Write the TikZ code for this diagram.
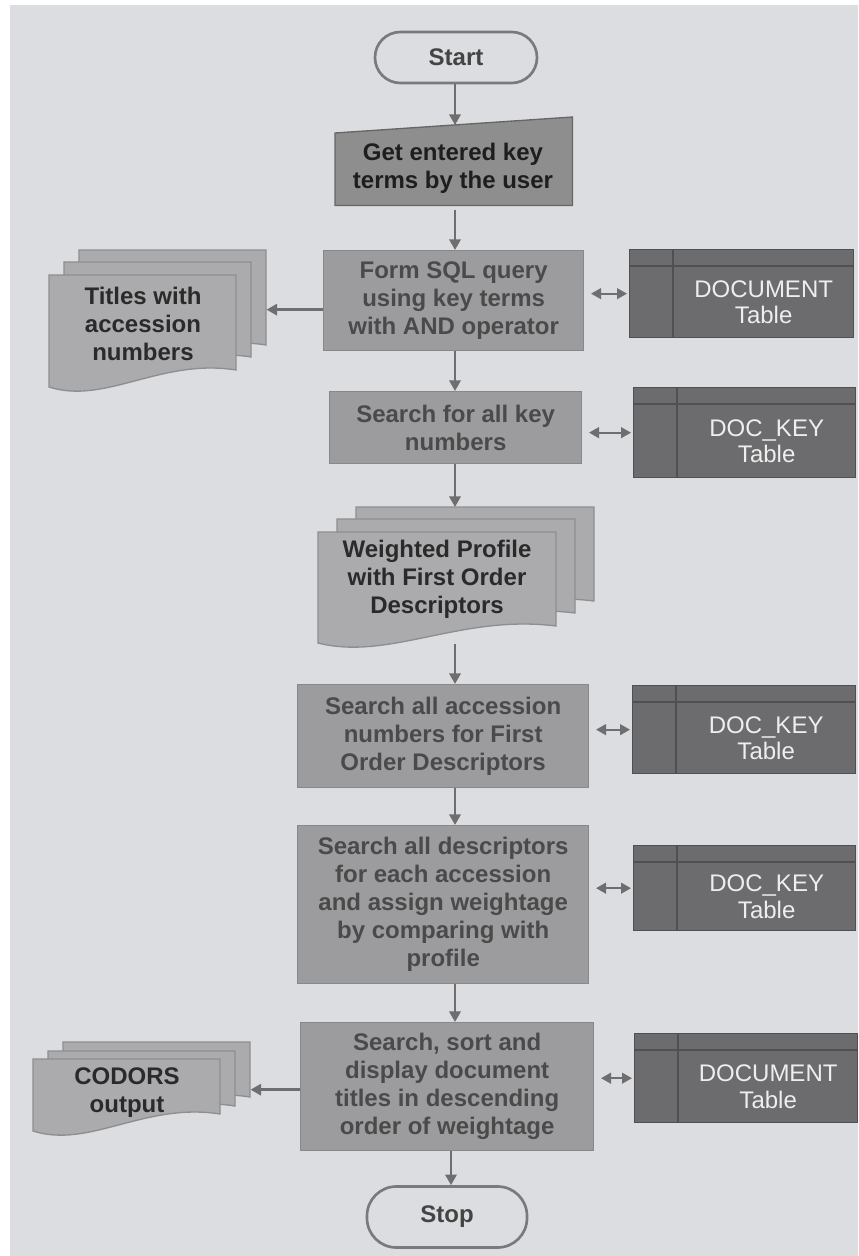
\documentclass[tikz,border=0pt]{standalone}
\usepackage{fontspec}
\setmainfont{Liberation Sans}
\usetikzlibrary{arrows.meta,calc}
\definecolor{bgc}{HTML}{DCDDE0}
\definecolor{procfill}{HTML}{9C9C9E}
\definecolor{procline}{HTML}{88888A}
\definecolor{proctext}{HTML}{4A4A4A}
\definecolor{manfill}{HTML}{8E8E8F}
\definecolor{manline}{HTML}{666666}
\definecolor{mantext}{HTML}{1E1E1E}
\definecolor{sheetfill}{HTML}{ABABAD}
\definecolor{sheetline}{HTML}{8E8E90}
\definecolor{sheettext}{HTML}{2A2A2A}
\definecolor{tabfill}{HTML}{6C6C6E}
\definecolor{tabline}{HTML}{505052}
\definecolor{tabtext}{HTML}{EEEEEE}
\definecolor{termline}{HTML}{7A7A7A}
\definecolor{termtext}{HTML}{444444}
\definecolor{arrc}{HTML}{6E6E70}
\newcommand\docsheet[4]{%
  \filldraw[sheet] (#1,#2) -- (#1+#3,#2) -- (#1+#3,#2+#4-17)
    .. controls (#1+0.6*#3,#2+#4-29) and (#1+0.3*#3,#2+#4+18) .. (#1,#2+#4) -- cycle;}
\tikzset{
  txt/.style={font=\fontsize{18}{21}\selectfont\bfseries, align=center, inner sep=0pt},
  proc/.style={txt, draw=procline, fill=procfill, line width=1pt, text=proctext, anchor=north west},
  term/.style={txt, draw=termline, fill=bgc, line width=2pt, text=termtext},
  ghost/.style={draw=none, inner sep=0pt, anchor=north west},
  manshape/.style={draw=manline, fill=manfill, line width=1pt},
  mantxt/.style={txt, text=mantext},
  sheet/.style={draw=sheetline, fill=sheetfill, line width=1pt},
  sheettxt/.style={txt, text=sheettext},
  tab/.style={draw=tabline, fill=tabfill, line width=1pt, inner sep=0pt, anchor=north west},
  tabsep/.style={draw=tabline, line width=1pt},
  tabtxt/.style={font=\fontsize{18}{20}\selectfont, align=center, inner sep=0pt, text=tabtext},
  arr/.style={draw=arrc, line width=1.9pt, -{Triangle[length=8pt,width=8.5pt]}},
  dbl/.style={draw=arrc, line width=1.6pt, {Triangle[length=7.5pt,width=8pt]}-{Triangle[length=7.5pt,width=8pt]}}
}
\begin{document}
\begin{tikzpicture}[x=0.75pt,y=-0.75pt]
\useasboundingbox (0,0) rectangle (858,1256);
\fill[white] (0,0) rectangle (858,1256);
\fill[bgc] (10,5) rectangle (858,1256);
\coordinate (col) at (455,0);
\coordinate (col2) at (451,0);

% terminals
\node[term, minimum width=162*0.75pt, minimum height=51*0.75pt, rounded corners=19pt] (start) at (456,57.5) {Start};
\node[term, minimum width=160*0.75pt, minimum height=61*0.75pt, rounded corners=22pt] (stop) at (447,1217) {Stop};

% manual input
\node[ghost, minimum width=237*0.75pt, minimum height=80*0.75pt] (man) at (335,125) {};
\filldraw[manshape] (man.south west) -- (man.south east) -- ($(man.north east)+(0,-8)$) -- ($(man.north west)+(0,8)$) -- cycle;
\node[mantxt] (mantext) at (453,168) {Get entered key\\terms by the user};

% process boxes
\node[proc, minimum width=260*0.75pt, minimum height=100*0.75pt] (sql) at (323,250) {Form SQL query\\using key terms\\with AND operator};
\node[proc, minimum width=252*0.75pt, minimum height=72*0.75pt] (key) at (329,391) {Search for all key\\numbers};
\node[proc, minimum width=291*0.75pt, minimum height=103*0.75pt] (acc) at (297,684) {Search all accession\\numbers for First\\Order Descriptors};
\node[proc, minimum width=291*0.75pt, minimum height=158*0.75pt] (desc) at (297,825) {Search all descriptors\\for each accession\\and assign weightage\\by comparing with\\profile};
\node[proc, minimum width=293*0.75pt, minimum height=128*0.75pt] (sort) at (300,1022) {Search, sort and\\display document\\titles in descending\\order of weightage};

% tables
\foreach \n/\x/\y/\w/\h/\t in {t1/629/249/224/88/DOCUMENT, t2/633/387/222/90/DOC\_KEY, t3/632/685/223/88/DOC\_KEY, t4/633/845/222/85/DOC\_KEY, t5/634/1033/223/89/DOCUMENT}{
  \node[tab, minimum width=\w*0.75pt, minimum height=\h*0.75pt] (\n) at (\x,\y) {};
  \draw[tabsep] ($(\n.north west)+(44,0)$) -- ($(\n.south west)+(44,0)$);
  \draw[tabsep] ($(\n.north west)+(0,17)$) -- ($(\n.north east)+(0,17)$);
  \node[tabtxt] (\n txt) at ($(\n.center)+(22,8.5)$) {\t\\Table};
}

% document stacks
\docsheet{79}{250}{187}{112}
\docsheet{64}{262}{187}{112}
\docsheet{49}{275}{187}{112}
\node[ghost, minimum width=187*0.75pt, minimum height=95*0.75pt] (titlesB) at (79,250) {};
\node[sheettxt] (titles) at (143,324) {Titles with\\accession\\numbers};

\docsheet{356}{507}{238}{111}
\docsheet{337}{519}{238}{111}
\docsheet{318}{532}{238}{111}
\node[ghost, minimum width=238*0.75pt, minimum height=94*0.75pt] (wpB) at (356,507) {};
\node[ghost, minimum width=238*0.75pt, minimum height=111*0.75pt] (wpF) at (318,532) {};
\node[sheettxt] (wp) at (437,579) {Weighted Profile\\with First Order\\Descriptors};

\docsheet{63}{1042}{187}{72}
\docsheet{48}{1051}{187}{72}
\docsheet{33}{1059}{187}{72}
\node[ghost, minimum width=187*0.75pt, minimum height=55*0.75pt] (codB) at (63,1042) {};
\node[sheettxt] (codors) at (127,1093) {CODORS\\output};

% flow arrows
\draw[arr] (start.south -| col) -- (man.north -| col);
\draw[arr] ([yshift=-3pt]man.south -| col) -- (sql.north -| col);
\draw[arr] (sql.south -| col) -- (key.north -| col);
\draw[arr] (key.south -| col) -- (wpB.north -| col);
\draw[arr] (wpF.south -| col) -- (acc.north -| col);
\draw[arr] (acc.south -| col) -- (desc.north -| col);
\draw[arr] (desc.south -| col) -- (sort.north -| col);
\draw[arr] (sort.south -| col2) -- (stop.north -| col2);

% outputs
\coordinate (o1) at ($(sql.west)+(0,9)$);
\draw[arr] (o1) -- (o1 -| titlesB.east);
\coordinate (o2) at ($(sort.west)+(0,3)$);
\draw[arr] (o2) -- (o2 -| codB.east);

% table links
\draw[dbl, shorten <=5pt, shorten >=1.5pt] (t1.west -| sql.east) -- (t1.west);
\draw[dbl, shorten <=5pt, shorten >=1.5pt] (t2.west -| key.east) -- (t2.west);
\draw[dbl, shorten <=5pt, shorten >=1.5pt] (t3.west -| acc.east) -- (t3.west);
\draw[dbl, shorten <=5pt, shorten >=1.5pt] (t4.west -| desc.east) -- (t4.west);
\draw[dbl, shorten <=5pt, shorten >=1.5pt] (t5.west -| sort.east) -- (t5.west);
\end{tikzpicture}
\end{document}
